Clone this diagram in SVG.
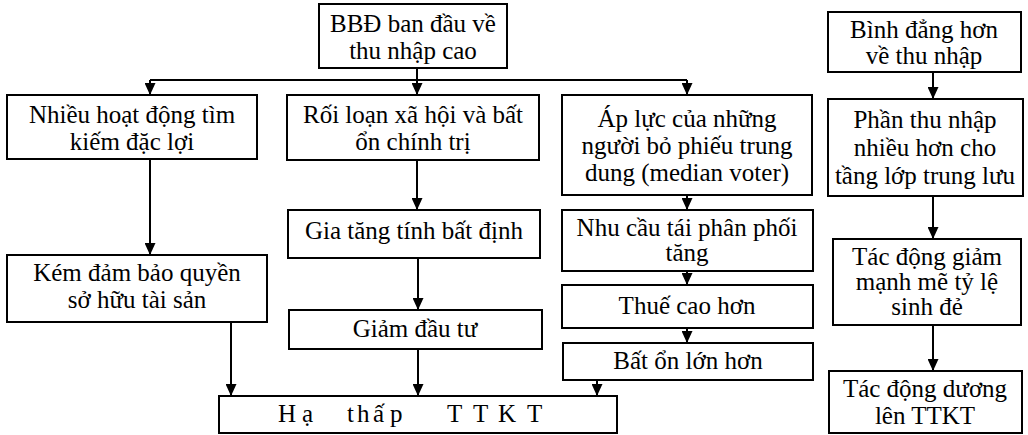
<svg xmlns="http://www.w3.org/2000/svg" width="1028" height="435" viewBox="0 0 1028 435">
<style>
.box{fill:#fff;stroke:#000;stroke-width:2}
.t{font-family:"Liberation Serif","Times New Roman",serif;font-size:25px;fill:#000;text-anchor:middle}
.c{fill:none;stroke:#000;stroke-width:2}
</style>
<defs>
<marker id="ah" markerUnits="userSpaceOnUse" markerWidth="12" markerHeight="11" refX="12" refY="5.5" orient="auto">
<path d="M0,0 L12,5.5 L0,11 z" fill="#000"/>
</marker>
</defs>
<rect width="1028" height="435" fill="#fff"/>
<g id="connectors">
<path class="c" d="M150,80 H687"/>
<path class="c" d="M417,68 V95" marker-end="url(#ah)"/>
<path class="c" d="M150,80 V95" marker-end="url(#ah)"/>
<path class="c" d="M687,80 V95" marker-end="url(#ah)"/>
<path class="c" d="M150,159 V255" marker-end="url(#ah)"/>
<path class="c" d="M417,160 V210" marker-end="url(#ah)"/>
<path class="c" d="M418,258 V310" marker-end="url(#ah)"/>
<path class="c" d="M231,322 V396" marker-end="url(#ah)"/>
<path class="c" d="M418,349 V396" marker-end="url(#ah)"/>
<path class="c" d="M687,195 V210" marker-end="url(#ah)"/>
<path class="c" d="M687,271 V285" marker-end="url(#ah)"/>
<path class="c" d="M687,328 V343" marker-end="url(#ah)"/>
<path class="c" d="M597,380 V396" marker-end="url(#ah)"/>
<path class="c" d="M933,72 V99" marker-end="url(#ah)"/>
<path class="c" d="M933,196 V239" marker-end="url(#ah)"/>
<path class="c" d="M933,325 V371" marker-end="url(#ah)"/>
</g>
<g id="n-bbd">
<rect class="box" x="319" y="4" width="188" height="64"/>
<text class="t" x="413" y="32">BBĐ ban đầu về</text>
<text class="t" x="413" y="59">thu nhập cao</text>
</g>
<g id="n-nhieu">
<rect class="box" x="7" y="95" width="250" height="64"/>
<text class="t" x="132" y="123">Nhiều hoạt động tìm</text>
<text class="t" x="132" y="150">kiếm đặc lợi</text>
</g>
<g id="n-roiloan">
<rect class="box" x="287" y="95" width="252" height="65"/>
<text class="t" x="413" y="123">Rối loạn xã hội và bất</text>
<text class="t" x="413" y="150">ổn chính trị</text>
</g>
<g id="n-apluc">
<rect class="box" x="562" y="95" width="250" height="100"/>
<text class="t" x="687" y="127">Áp lực của những</text>
<text class="t" x="687" y="154">người bỏ phiếu trung</text>
<text class="t" x="687" y="181">dung (median voter)</text>
</g>
<g id="n-kem">
<rect class="box" x="7" y="255" width="260" height="67"/>
<text class="t" x="137" y="281">Kém đảm bảo quyền</text>
<text class="t" x="137" y="308">sở hữu tài sản</text>
</g>
<g id="n-giatang">
<rect class="box" x="288" y="210" width="252" height="48"/>
<text class="t" x="414" y="239">Gia tăng tính bất định</text>
</g>
<g id="n-giam">
<rect class="box" x="289" y="310" width="253" height="39"/>
<text class="t" x="415" y="337">Giảm đầu tư</text>
</g>
<g id="n-nhucau">
<rect class="box" x="562" y="210" width="251" height="61"/>
<text class="t" x="687" y="236">Nhu cầu tái phân phối</text>
<text class="t" x="687" y="261">tăng</text>
</g>
<g id="n-thue">
<rect class="box" x="562" y="285" width="251" height="43"/>
<text class="t" x="687" y="314">Thuế cao hơn</text>
</g>
<g id="n-baton">
<rect class="box" x="563" y="343" width="250" height="37"/>
<text class="t" x="688" y="369">Bất ổn lớn hơn</text>
</g>
<g id="n-hathap">
<rect class="box" x="219" y="396" width="398" height="37"/>
<text class="t" style="text-anchor:start" x="278 302 322 347 357 373 390 420 447 473 498 527" y="422">Hạ thấp TTKT</text>
</g>
<g id="n-binhdang">
<rect class="box" x="828" y="12" width="193" height="60"/>
<text class="t" x="924" y="38">Bình đẳng hơn</text>
<text class="t" x="924" y="64">về thu nhập</text>
</g>
<g id="n-phan">
<rect class="box" x="828" y="99" width="195" height="97"/>
<text class="t" x="925" y="128">Phần thu nhập</text>
<text class="t" x="925" y="156">nhiều hơn cho</text>
<text class="t" x="925" y="184">tầng lớp trung lưu</text>
</g>
<g id="n-tacdonggiam">
<rect class="box" x="833" y="239" width="188" height="86"/>
<text class="t" x="927" y="265">Tác động giảm</text>
<text class="t" x="927" y="290">mạnh mẽ tỷ lệ</text>
<text class="t" x="927" y="315">sinh đẻ</text>
</g>
<g id="n-tacdongduong">
<rect class="box" x="829" y="371" width="193" height="62"/>
<text class="t" x="925" y="397">Tác động dương</text>
<text class="t" x="925" y="424">lên TTKT</text>
</g>
</svg>
